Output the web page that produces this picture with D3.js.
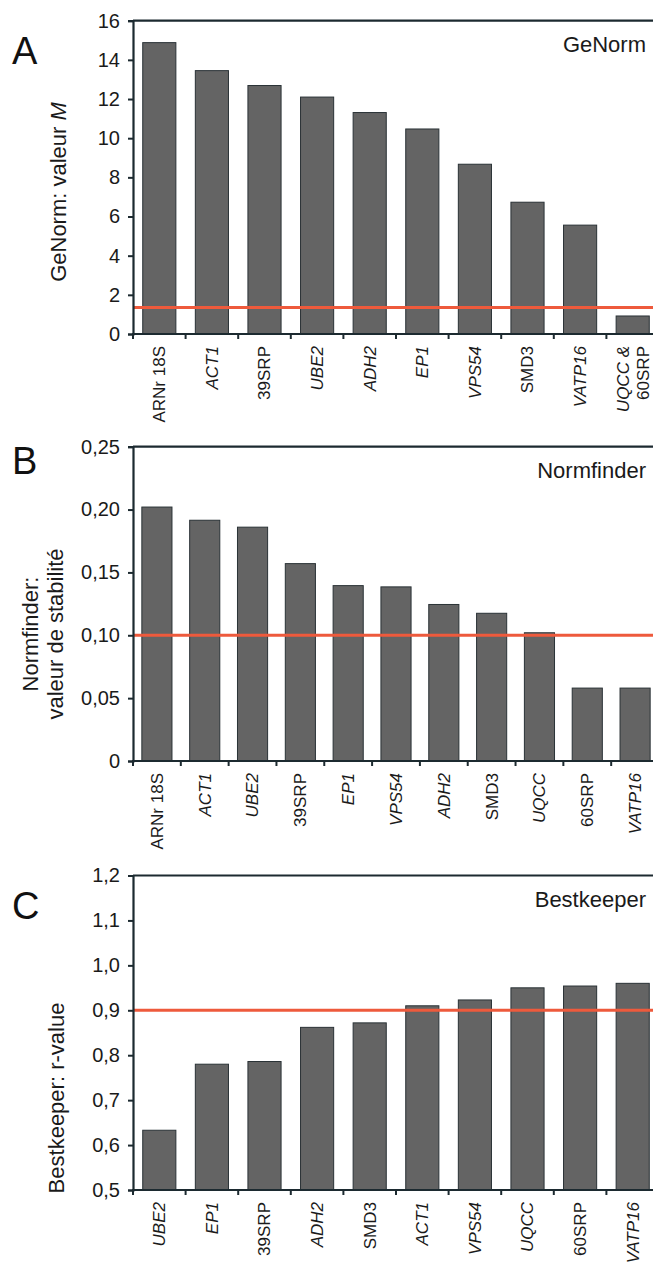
<!DOCTYPE html>
<html>
<head>
<meta charset="utf-8">
<script src="https://cdn.jsdelivr.net/npm/d3@7"></script>
<style>
  body { margin: 0; background: #fff; }
  svg { display: block; font-family: Arial, "Liberation Sans", Helvetica, sans-serif; }
</style>
</head>
<body>
<div id="chart"></div>
<script>
// Donnees
const genesA = ['ARNr 18S', 'ACT1', '39SRP', 'UBE2', 'ADH2', 'EP1', 'VPS54', 'SMD3', 'VATP16', 'UQCC & 60SRP'];
const valuesA = [14.88, 13.45, 12.69, 12.1, 11.31, 10.47, 8.67, 6.73, 5.56, 0.92];
const ticksA = [0, 2, 4, 6, 8, 10, 12, 14, 16];
const seuilA = 1.35;

const genesB = ['ARNr 18S', 'ACT1', 'UBE2', '39SRP', 'EP1', 'VPS54', 'ADH2', 'SMD3', 'UQCC', '60SRP', 'VATP16'];
const valuesB = [0.202, 0.1915, 0.186, 0.157, 0.1395, 0.1385, 0.1245, 0.1175, 0.102, 0.058, 0.058];
const ticksB = [0, 0.05, 0.10, 0.15, 0.20, 0.25];
const seuilB = 0.10;

const genesC = ['UBE2', 'EP1', '39SRP', 'ADH2', 'SMD3', 'ACT1', 'VPS54', 'UQCC', '60SRP', 'VATP16'];
const valuesC = [0.633, 0.780, 0.786, 0.862, 0.872, 0.910, 0.923, 0.950, 0.954, 0.960];
const ticksC = [0.5, 0.6, 0.7, 0.8, 0.9, 1.0, 1.1, 1.2];
const seuilC = 0.90;

// noms non italiques
const upright = ['ARNr 18S', '39SRP', 'SMD3', '60SRP'];

const width = 653, height = 1268;
const x0 = 133, x1 = 659;
const fontFam = 'Arial, "Liberation Sans", Helvetica, sans-serif';
const axisColor = '#1c2a30';
const barColor = '#646464';
const redColor = '#ee5a3c';

const svg = d3.select('#chart').append('svg')
    .attr('width', width)
    .attr('height', height);

const fmtComma = (d, dec) => d === 0 ? '0' : d.toFixed(dec).replace('.', ',');

function drawPanel(opt) {
    const g = svg.append('g');

    const x = d3.scaleBand()
        .domain(opt.genes)
        .range([x0, x1])
        .paddingInner(0.37)
        .paddingOuter(0.185);

    const y = d3.scaleLinear()
        .domain(opt.domain)
        .range([opt.bottom, opt.top]);

    // barres
    g.selectAll('rect.bar')
        .data(opt.values)
        .enter()
        .append('rect')
        .attr('class', 'bar')
        .attr('x', (d, i) => x(opt.genes[i]))
        .attr('y', d => y(d))
        .attr('width', x.bandwidth())
        .attr('height', d => y(opt.domain[0]) - y(d))
        .attr('fill', barColor)
        .attr('stroke', '#2a3236')
        .attr('stroke-width', 1);

    // ligne seuil
    g.append('line')
        .attr('x1', x0)
        .attr('x2', width + 10)
        .attr('y1', y(opt.seuil))
        .attr('y2', y(opt.seuil))
        .attr('stroke', redColor)
        .attr('stroke-width', 3);

    // cadre du haut
    g.append('line')
        .attr('x1', x0)
        .attr('x2', width + 10)
        .attr('y1', opt.top)
        .attr('y2', opt.top)
        .attr('stroke', axisColor)
        .attr('stroke-width', 2.2);

    // axe y
    const yAxis = d3.axisLeft(y)
        .tickValues(opt.ticks)
        .tickSize(5)
        .tickPadding(8)
        .tickFormat(opt.format);
    const ya = g.append('g')
        .attr('transform', `translate(${x0},0)`)
        .call(yAxis);
    ya.attr('font-family', fontFam);
    ya.select('.domain').attr('stroke', axisColor).attr('stroke-width', 2.2);
    ya.selectAll('.tick line').attr('stroke', axisColor).attr('stroke-width', 2);
    ya.selectAll('.tick text')
        .attr('font-size', 20)
        .attr('fill', '#1a1a1a');

    // axe x: ligne + graduations aux limites des bandes
    g.append('line')
        .attr('x1', x0 - 1)
        .attr('x2', width + 10)
        .attr('y1', opt.bottom)
        .attr('y2', opt.bottom)
        .attr('stroke', axisColor)
        .attr('stroke-width', 2.2);

    const step = x.step();
    const bounds = d3.range(opt.genes.length + 1).map(i => x0 + i * step);
    g.selectAll('line.xtick')
        .data(bounds)
        .enter()
        .append('line')
        .attr('class', 'xtick')
        .attr('x1', d => d)
        .attr('x2', d => d)
        .attr('y1', opt.bottom)
        .attr('y2', opt.bottom + 5)
        .attr('stroke', axisColor)
        .attr('stroke-width', 2);

    // etiquettes x (tournees)
    opt.genes.forEach(name => {
        const cx = x(name) + x.bandwidth() / 2;
        const parts = name === 'UQCC & 60SRP' ? ['UQCC &', '60SRP'] : [name];
        parts.forEach((p, k) => {
            const off = parts.length > 1 ? (k === 0 ? -10 : 10) : 0;
            g.append('text')
                .attr('transform', `translate(${cx + off},${opt.bottom + 12}) rotate(-90)`)
                .attr('text-anchor', 'end')
                .attr('dy', '0.35em')
                .attr('font-size', 17)
                .attr('fill', '#1a1a1a')
                .style('font-style', upright.includes(p) ? 'normal' : 'italic')
                .text(p);
        });
    });

    // titre du panneau
    g.append('text')
        .attr('x', 646)
        .attr('y', opt.top + 31)
        .attr('text-anchor', 'end')
        .attr('font-size', 22)
        .attr('fill', '#1a1a1a')
        .text(opt.title);

    // lettre
    g.append('text')
        .attr('x', 12)
        .attr('y', opt.top + opt.letterDy)
        .attr('font-size', 38)
        .attr('fill', '#111')
        .text(opt.letter);

    // titre axe y
    opt.yTitle.forEach((line, k) => {
        const t = g.append('text')
            .attr('transform', `translate(${opt.yTitleX[k]},${opt.yTitleY}) rotate(-90)`)
            .attr('text-anchor', 'middle')
            .attr('font-size', 22)
            .attr('fill', '#1a1a1a');
        line.forEach(seg => {
            t.append('tspan')
                .style('font-style', seg.italic ? 'italic' : 'normal')
                .text(seg.t);
        });
    });
}

drawPanel({
    genes: genesA, values: valuesA, ticks: ticksA, seuil: seuilA,
    domain: [0, 16], top: 20.7, bottom: 334,
    format: d => d3.format('d')(d),
    title: 'GeNorm', letter: 'A', letterDy: 43,
    yTitle: [[{ t: 'GeNorm: valeur ' }, { t: 'M', italic: true }]],
    yTitleX: [66], yTitleY: 192
});

drawPanel({
    genes: genesB, values: valuesB, ticks: ticksB, seuil: seuilB,
    domain: [0, 0.25], top: 446.7, bottom: 761,
    format: d => fmtComma(d, 2),
    title: 'Normfinder', letter: 'B', letterDy: 27,
    yTitle: [[{ t: 'Normfinder:' }], [{ t: 'valeur de stabilité' }]],
    yTitleX: [38, 63], yTitleY: 634
});

drawPanel({
    genes: genesC, values: valuesC, ticks: ticksC, seuil: seuilC,
    domain: [0.5, 1.2], top: 875.5, bottom: 1190,
    format: d => fmtComma(d, 1),
    title: 'Bestkeeper', letter: 'C', letterDy: 43,
    yTitle: [[{ t: 'Bestkeeper: r-value' }]],
    yTitleX: [64], yTitleY: 1098
});
</script>
</body>
</html>
